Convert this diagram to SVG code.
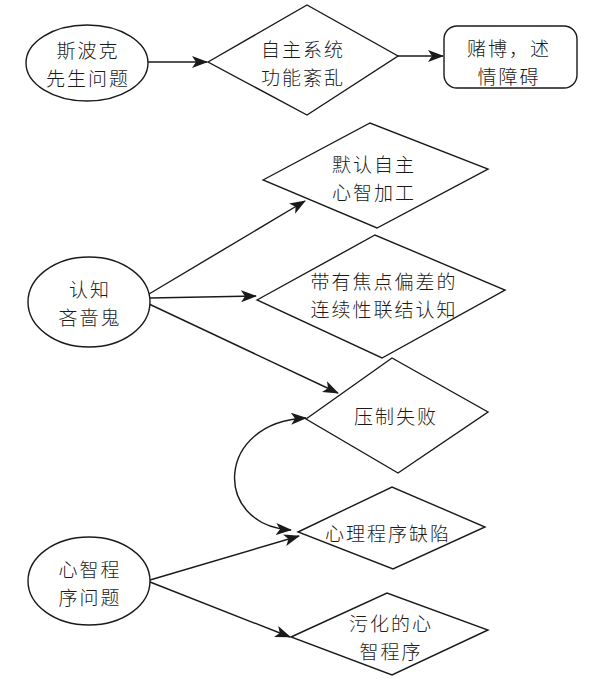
<svg xmlns="http://www.w3.org/2000/svg" width="594" height="683" viewBox="0 0 594 683">
<defs>
<style>
.s{fill:#fff;stroke:#1a1a1a;stroke-width:1.4}
.c{fill:none;stroke:#1a1a1a;stroke-width:1.4}
text{font-family:"Noto Sans CJK SC","Noto Sans",sans-serif;font-size:19px;letter-spacing:2px;fill:#1a1a1a;text-anchor:middle;dominant-baseline:central;font-weight:300}
</style>
<marker id="ah" markerUnits="userSpaceOnUse" markerWidth="16" markerHeight="12" viewBox="0 0 16 12" refX="15" refY="6" orient="auto-start-reverse">
<path d="M0,0 L16,6 L0,12 L4,6 z" fill="#1a1a1a"/>
</marker>
</defs>
<rect width="594" height="683" fill="#fff"/>
<g id="connectors">
<line class="c" x1="148" y1="62" x2="207" y2="62" marker-end="url(#ah)"/>
<line class="c" x1="398" y1="56" x2="443" y2="56" marker-end="url(#ah)"/>
<line class="c" x1="149" y1="294" x2="305" y2="201" marker-end="url(#ah)"/>
<line class="c" x1="150" y1="298" x2="256" y2="296" marker-end="url(#ah)"/>
<line class="c" x1="149" y1="304" x2="338" y2="393" marker-end="url(#ah)"/>
<path class="c" d="M306,418 C215,422 212,525 291,530" marker-start="url(#ah)" marker-end="url(#ah)"/>
<line class="c" x1="150" y1="580" x2="299" y2="536" marker-end="url(#ah)"/>
<line class="c" x1="150" y1="582" x2="290" y2="637" marker-end="url(#ah)"/>
</g>
<g id="n1"><ellipse class="s" cx="87" cy="63" rx="61" ry="38"/><text x="88" y="49">斯波克</text><text x="88" y="77">先生问题</text></g>
<g id="n2"><polygon class="s" points="208,62 307,5 398,56 307,115"/><text x="303" y="48">自主系统</text><text x="303" y="76">功能紊乱</text></g>
<g id="n3"><rect class="s" x="444" y="26" width="133" height="62" rx="13"/><text x="509" y="47">赌博，述</text><text x="509" y="75">情障碍</text></g>
<g id="n4"><ellipse class="s" cx="89" cy="302" rx="61" ry="45"/><text x="90" y="288">认知</text><text x="90" y="316">吝啬鬼</text></g>
<g id="n5"><polygon class="s" points="263,180 370,123 488,169 377,228"/><text x="374" y="163">默认自主</text><text x="374" y="191">心智加工</text></g>
<g id="n6"><polygon class="s" points="257,300 375,235 505,290 382,358"/><text x="384" y="280">带有焦点偏差的</text><text x="384" y="308">连续性联结认知</text></g>
<g id="n7"><polygon class="s" points="306,419 392,358 488,412 398,473"/><text x="396" y="415">压制失败</text></g>
<g id="n8"><polygon class="s" points="298,532 392,487 485,527 393,569"/><text x="388" y="532">心理程序缺陷</text></g>
<g id="n9"><ellipse class="s" cx="89" cy="581" rx="61" ry="44"/><text x="90" y="568">心智程</text><text x="90" y="596">序问题</text></g>
<g id="n10"><polygon class="s" points="291,637 387,593 488,630 392,675"/><text x="391" y="622">污化的心</text><text x="391" y="650">智程序</text></g>
</svg>
